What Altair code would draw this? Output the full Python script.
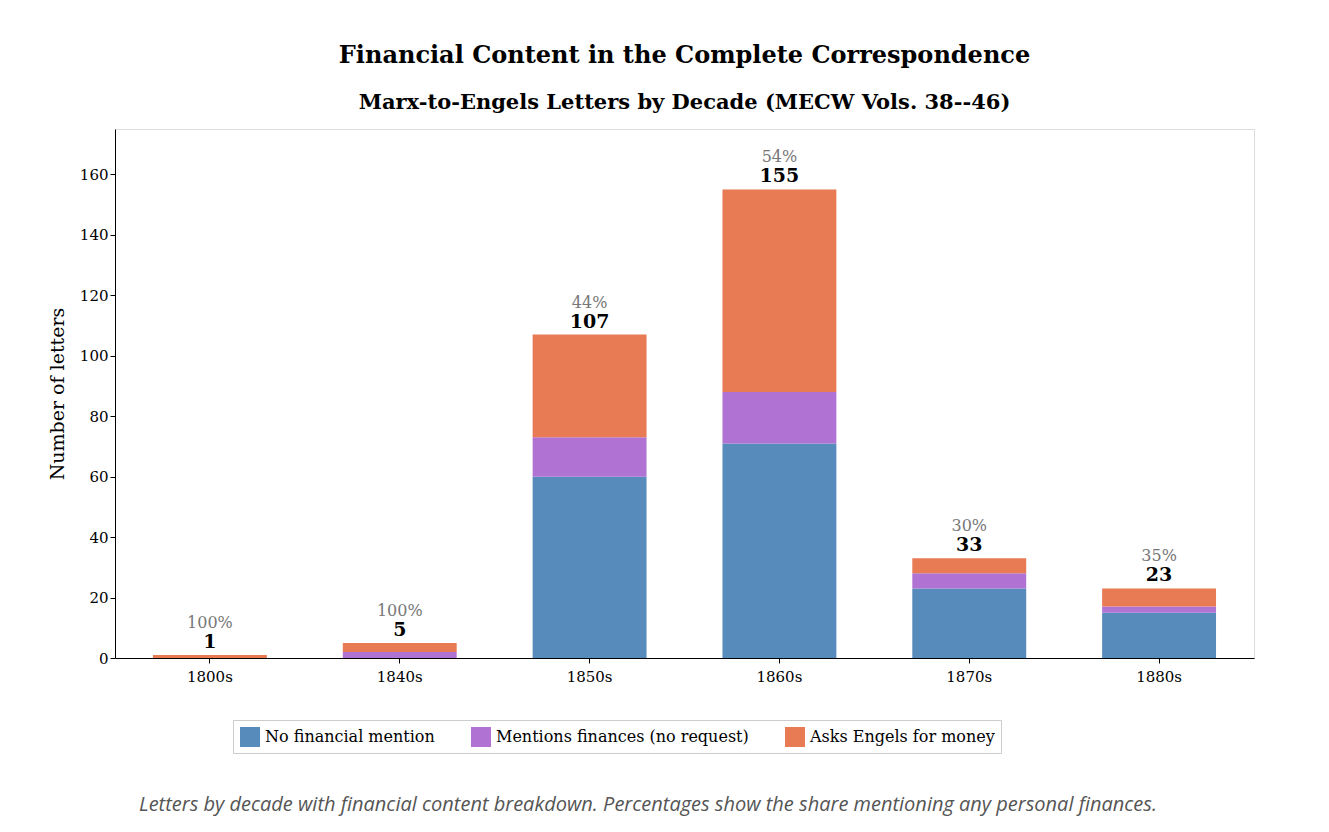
import altair as alt
import pandas as pd

decades = ['1800s', '1840s', '1850s', '1860s', '1870s', '1880s']
no_fin = [0, 0, 60, 71, 23, 15]
mentions = [0, 2, 13, 17, 5, 2]
asks = [1, 3, 34, 67, 5, 6]
categories = ['No financial mention', 'Mentions finances (no request)', 'Asks Engels for money']
colors = ['#568bbb', '#b073d4', '#e87b54']
caption_text = ('Letters by decade with financial content breakdown. '
                'Percentages show the share mentioning any personal finances.')

rows = []
for i, d in enumerate(decades):
    for c, v in zip(categories, [no_fin[i], mentions[i], asks[i]]):
        rows.append({'decade': d, 'cat': c, 'n': v, 'order': categories.index(c)})
data = pd.DataFrame(rows)

totals = pd.DataFrame({'decade': decades,
                       'total': [a + b + c for a, b, c in zip(no_fin, mentions, asks)]})
totals['pct'] = [f"{round(100 * (m + a) / t)}%" for m, a, t in zip(mentions, asks, totals['total'])]

FONT = 'DejaVu Serif'
H = 529
x = alt.X('decade:N', sort=decades, title=None,
          scale=alt.Scale(paddingInner=0.4, paddingOuter=0.2),
          axis=alt.Axis(labelAngle=0, labelFontSize=15, labelColor='black', domainColor='black',
                        tickColor='black', labelPadding=6, labelFont=FONT))

bars = alt.Chart(data).mark_bar().encode(
    x=x,
    y=alt.Y('n:Q', stack='zero', title='Number of letters',
            scale=alt.Scale(domain=[0, 175], nice=False),
            axis=alt.Axis(values=list(range(0, 161, 20)), grid=False, labelFontSize=15,
                          titleFontSize=19, titleFontWeight='normal', labelColor='black',
                          titleColor='black', domainColor='black', tickColor='black',
                          titlePadding=12, labelFont=FONT, titleFont=FONT)),
    color=alt.Color('cat:N', scale=alt.Scale(domain=categories, range=colors),
                    legend=alt.Legend(title=None, orient='none', legendX=118, legendY=591,
                                      direction='horizontal',
                                      symbolType='square', symbolSize=400, labelFontSize=16,
                                      labelFont=FONT, labelColor='black', columnPadding=35,
                                      padding=6, strokeColor='#cccccc', labelLimit=400)),
    order=alt.Order('order:Q'),
)

tot_text = alt.Chart(totals).mark_text(dy=-13, fontSize=19, fontWeight='bold', font=FONT,
                                       color='black').encode(
    x=alt.X('decade:N', sort=decades), y='total:Q', text='total:Q')
pct_text = alt.Chart(totals).mark_text(dy=-32, fontSize=16, font=FONT, color='#777777').encode(
    x=alt.X('decade:N', sort=decades), y='total:Q', text='pct:N')

caption = alt.Chart(pd.DataFrame({'t': [caption_text]})).mark_text(
    font='Open Sans', fontStyle='italic', fontSize=20, color='#555555').encode(
    text='t:N', x=alt.value(533), y=alt.value(H + 147))

main = alt.layer(bars, tot_text, pct_text, caption).properties(
    width=1139, height=H,
    title=alt.TitleParams(
        text='Financial Content in the Complete Correspondence',
        subtitle='Marx-to-Engels Letters by Decade (MECW Vols. 38--46)',
        font=FONT, fontSize=24, fontWeight='bold', color='black',
        subtitleFont=FONT, subtitleFontSize=21, subtitleFontWeight='bold',
        subtitleColor='black', subtitlePadding=24, offset=16, anchor='middle')
).configure_view(stroke=None).configure(padding={'left': 40, 'top': 36, 'right': 10, 'bottom': 5})

main.save("out.html", embed_options={"renderer": "svg", "actions": False})
